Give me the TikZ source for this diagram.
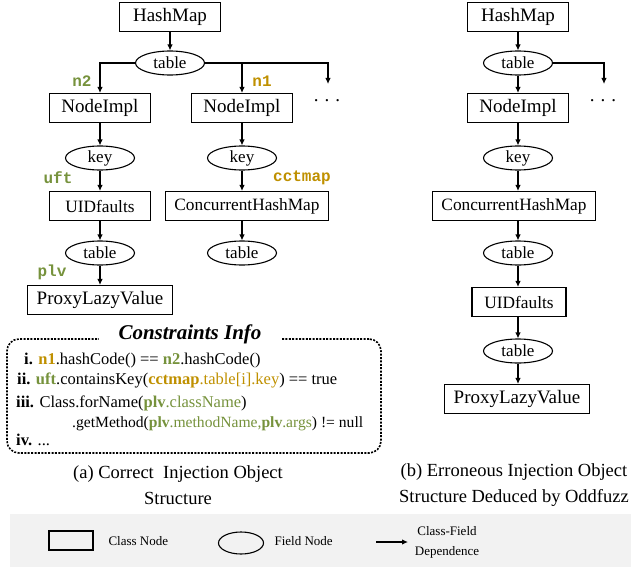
\documentclass[tikz,border=0pt]{standalone}
\usepackage{fontspec}
\setmainfont{Liberation Serif}
\setmonofont{Liberation Mono}
\usepackage{tikz}
\usetikzlibrary{shapes,arrows.meta,positioning}
\definecolor{olivegreen}{RGB}{118,146,60}
\definecolor{goldtag}{RGB}{191,144,0}
\definecolor{legendgray}{RGB}{242,242,242}

\begin{document}
\begin{tikzpicture}[x=1pt,y=-1pt]
        %styles
        \tikzstyle{classnode}=[rectangle, draw, line width=1.1pt, minimum width=101pt, minimum height=29pt, inner xsep=9pt, inner ysep=0pt, font=\fontsize{19}{22}\selectfont]
        \tikzstyle{smallclass}=[classnode, font=\fontsize{17.3}{20}\selectfont]
        \tikzstyle{fieldnode}=[ellipse, draw, line width=1.1pt, minimum width=69pt, minimum height=24pt, inner sep=0pt, font=\fontsize{17}{20}\selectfont]
        \tikzstyle{vartag}=[inner sep=0pt, font=\fontsize{16}{18}\selectfont\ttfamily\bfseries]
        \tikzstyle{moredots}=[inner sep=0pt, anchor=base, font=\fontsize{19}{22}\selectfont]
        \tikzstyle{dep}=[-{Latex[length=6pt,width=5.5pt]}, line width=1.1pt]
        \tikzstyle{cbox}=[draw, line width=1.6pt, dash pattern=on 2pt off 1.4pt, rounded corners=12pt]
        \tikzstyle{cline}=[inner sep=0pt, anchor=base west, font=\fontsize{16.5}{20}\selectfont]
        \tikzstyle{subcap}=[align=center, font=\fontsize{18.5}{26}\selectfont]
        \tikzstyle{legendtext}=[align=center, font=\fontsize{13}{20}\selectfont]

        \useasboundingbox (0,0) rectangle (631,567);

        %left: correct structure
        \node[classnode] (lhash) at (170,17) {HashMap};
        \node[fieldnode] (ltable) at (170,63) {table};
        \node[classnode] (lnode2) at (100,108) {NodeImpl};
        \node[classnode] (lnode1) at (242,108) {NodeImpl};
        \coordinate (lmore) at (328,84);
        \node[moredots] (ldots) at (327,102) {.\hspace{6pt}.\hspace{6pt}.};
        \node[fieldnode] (lkey2) at (100,158) {key};
        \node[fieldnode] (lkey1) at (242,158) {key};
        \node[smallclass] (luid) at (100,206) {UIDfaults};
        \node[smallclass] (lchm) at (247,206) {ConcurrentHashMap};
        \node[fieldnode] (ltab2) at (100,253) {table};
        \node[fieldnode] (ltab1) at (242,253) {table};
        \node[classnode] (lplv) at (100,300) {ProxyLazyValue};

        \node[vartag, text=olivegreen] (tn2) at (82,81) {n2};
        \node[vartag, text=goldtag] (tn1) at (262,81) {n1};
        \node[vartag, text=olivegreen] (tuft) at (58,178) {uft};
        \node[vartag, text=goldtag] (tcct) at (302,178) {cctmap};
        \node[vartag, text=olivegreen] (tplv) at (52,272) {plv};

        %right: erroneous structure
        \node[classnode] (rhash) at (518,17) {HashMap};
        \node[fieldnode] (rtable) at (518,63) {table};
        \coordinate (rmore) at (604,84);
        \node[moredots] (rdots) at (603,102) {.\hspace{6pt}.\hspace{6pt}.};
        \node[classnode] (rnode) at (518,108) {NodeImpl};
        \node[fieldnode] (rkey) at (518,158) {key};
        \node[smallclass] (rchm) at (514,206) {ConcurrentHashMap};
        \node[fieldnode] (rtab1) at (518,253) {table};
        \node[smallclass, minimum width=94pt] (ruid) at (519,302) {UIDfaults};
        \node[fieldnode] (rtab2) at (518,351) {table};
        \node[classnode] (rplv) at (517,399) {ProxyLazyValue};

        %constraints
        \node[cbox, minimum width=374pt, minimum height=114pt] (cons) at (194,396) {};
        \node[fill=white, inner xsep=20pt, inner ysep=1pt, font=\fontsize{21}{24}\selectfont\bfseries\itshape] (ctitle) at (190,334) {Constraints Info};
        \node[cline] (c1) at (24,364) {\textbf{i.} \textcolor{goldtag}{\textbf{n1}}.hashCode() == \textcolor{olivegreen}{\textbf{n2}}.hashCode()};
        \node[cline] (c2) at (17,384) {\textbf{ii.} \textcolor{olivegreen}{\textbf{uft}}.containsKey(\textcolor{goldtag}{\textbf{cctmap}.table[i].key}) == true};
        \node[cline] (c3) at (16,407) {\textbf{iii.} Class.forName(\textcolor{olivegreen}{\textbf{plv}.className})};
        \node[cline, font=\fontsize{15.6}{20}\selectfont] (c3b) at (72,427) {.getMethod(\textcolor{olivegreen}{\textbf{plv}.methodName,\textbf{plv}.args}) != null};
        \node[cline] (c4) at (16,445) {\textbf{iv.} ...};

        %captions
        \node[subcap] (capa) at (178,485) {(a) Correct~ Injection Object\\Structure};
        \node[subcap] (capb) at (514,485) {(b) Erroneous Injection Object\\Structure Deduced by Oddfuzz};

        %legend
        \fill[legendgray] (10,514) rectangle (631,567);
        \node[classnode, minimum width=44pt, minimum height=19pt] (lgclass) at (71,540.5) {};
        \node[legendtext, anchor=west] (lgclasst) at (105,541) {Class Node};
        \node[fieldnode, minimum width=45pt, minimum height=22pt] (lgfield) at (241,543) {};
        \node[legendtext, anchor=west] (lgfieldt) at (271,541) {Field Node};
        \coordinate (lgfrom) at (376,542);
        \coordinate (lgto) at (408,542);
        \node[legendtext] (lgdept) at (447,542) {Class-Field\\Dependence};

        %arrows
        \draw[dep] (lhash)--(ltable);
        \draw[dep] (ltable.west) -| (lnode2.north);
        \draw[dep] (ltable.east) -| (lnode1.north);
        \draw[dep] (ltable.east) -| (lmore);
        \draw[dep] (lnode2)--(lkey2);
        \draw[dep] (lkey2)--(luid);
        \draw[dep] (luid)--(ltab2);
        \draw[dep] (ltab2)--(lplv);
        \draw[dep] (lnode1)--(lkey1);
        \draw[dep] (lkey1.south)--(lkey1.south |- lchm.north);
        \draw[dep] (lchm.south -| lkey1)--(ltab1);

        \draw[dep] (rhash)--(rtable);
        \draw[dep] (rtable.east) -| (rmore);
        \draw[dep] (rtable)--(rnode);
        \draw[dep] (rnode)--(rkey);
        \draw[dep] (rkey.south)--(rkey.south |- rchm.north);
        \draw[dep] (rchm.south -| rkey)--(rtab1);
        \draw[dep] (rtab1)--(ruid.north -| rtab1);
        \draw[dep] (ruid.south -| rtab2)--(rtab2);
        \draw[dep] (rtab2)--(rplv.north -| rtab2);

        \draw[dep] (lgfrom)--(lgto);
\end{tikzpicture}
\end{document}
